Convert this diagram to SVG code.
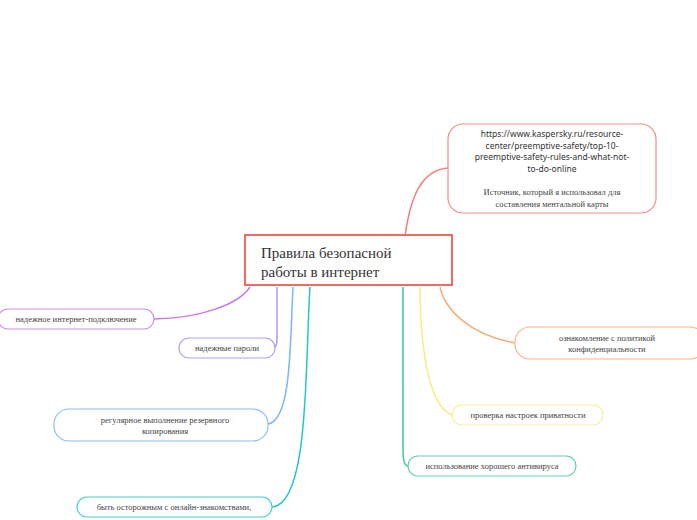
<svg xmlns="http://www.w3.org/2000/svg" width="697" height="520" viewBox="0 0 697 520">
<style>
.t{font-family:"Liberation Serif",serif;font-size:8.5px;fill:#444;text-anchor:middle}
.u{font-family:"Noto Sans","DejaVu Sans",sans-serif;font-size:8.5px;fill:#333;text-anchor:middle}
.n{fill:#fff;stroke-width:1.2}
.c{fill:none;stroke-width:1.5}
.r{font-family:"Liberation Serif",serif;font-size:15px;fill:#333}
</style>
<rect width="697" height="520" fill="#fff"/>
<g id="connectors">
<path class="c" stroke="#f47a74" d="M405,236 C410,200 420,170 448,168"/>
<path class="c" stroke="#c87ae6" d="M250,287 C238,305 200,318 154,319"/>
<path class="c" stroke="#a99cf7" d="M277,287 L277,340 Q277,348 272,348"/>
<path class="c" stroke="#7bb6f5" d="M293,287 C290,340 292,420 268,424"/>
<path class="c" stroke="#22c7d0" d="M310,287 C305,360 310,505 272,507"/>
<path class="c" stroke="#3ecb98" d="M403,287 L403,450 Q403,466 408,466"/>
<path class="c" stroke="#f9ec7a" d="M420,287 C420,330 425,405 452,415"/>
<path class="c" stroke="#f9aa78" d="M440,287 C445,310 470,335 515,343"/>
</g>
<g id="root"><rect x="245" y="235" width="207" height="50" fill="#fff" stroke="#f26b62" stroke-width="2"/>
<text class="r" x="261" y="258">Правила безопасной</text>
<text class="r" x="261" y="277">работы в интернет</text></g>
<g id="n1"><rect class="n" x="448" y="124" width="208" height="89" rx="15" stroke="#f58b86"/>
<text class="u" x="552" y="137">https://www.kaspersky.ru/resource-</text>
<text class="u" x="552" y="149">center/preemptive-safety/top-10-</text>
<text class="u" x="552" y="160">preemptive-safety-rules-and-what-not-</text>
<text class="u" x="552" y="172">to-do-online</text>
<text class="t" x="552" y="195">Источник, который я использовал для</text>
<text class="t" x="552" y="207">составления ментальной карты</text></g>
<g id="n2"><rect class="n" x="-2" y="309" width="156" height="20" rx="10" stroke="#d08bf0"/><text class="t" x="76" y="322">надежное интернет-подключение</text></g>
<g id="n3"><rect class="n" x="179" y="338" width="96" height="20" rx="10" stroke="#ada2f8"/><text class="t" x="227" y="351">надежные пароли</text></g>
<g id="n4"><rect class="n" x="54" y="409" width="214" height="32" rx="15" stroke="#8cc0f7"/><text class="t" x="165" y="423">регулярное выполнение резервного</text><text class="t" x="165" y="434">копирования</text></g>
<g id="n5"><rect class="n" x="77" y="497" width="195" height="20" rx="10" stroke="#3fd0d8"/><text class="t" x="174" y="510">быть осторожным с онлайн-знакомствами,</text></g>
<g id="n6"><rect class="n" x="408" y="456" width="168" height="20" rx="10" stroke="#5ed4a6"/><text class="t" x="492" y="469">использование хорошего антивируса</text></g>
<g id="n7"><rect class="n" x="452" y="405" width="151" height="20" rx="10" stroke="#f7ef9a"/><text class="t" x="528" y="418">проверка настроек приватности</text></g>
<g id="n8"><rect class="n" x="515" y="327" width="190" height="32" rx="15" stroke="#f9b48a"/><text class="t" x="607" y="341">ознакомление с политикой</text><text class="t" x="607" y="352">конфиденциальности</text></g>
</svg>
